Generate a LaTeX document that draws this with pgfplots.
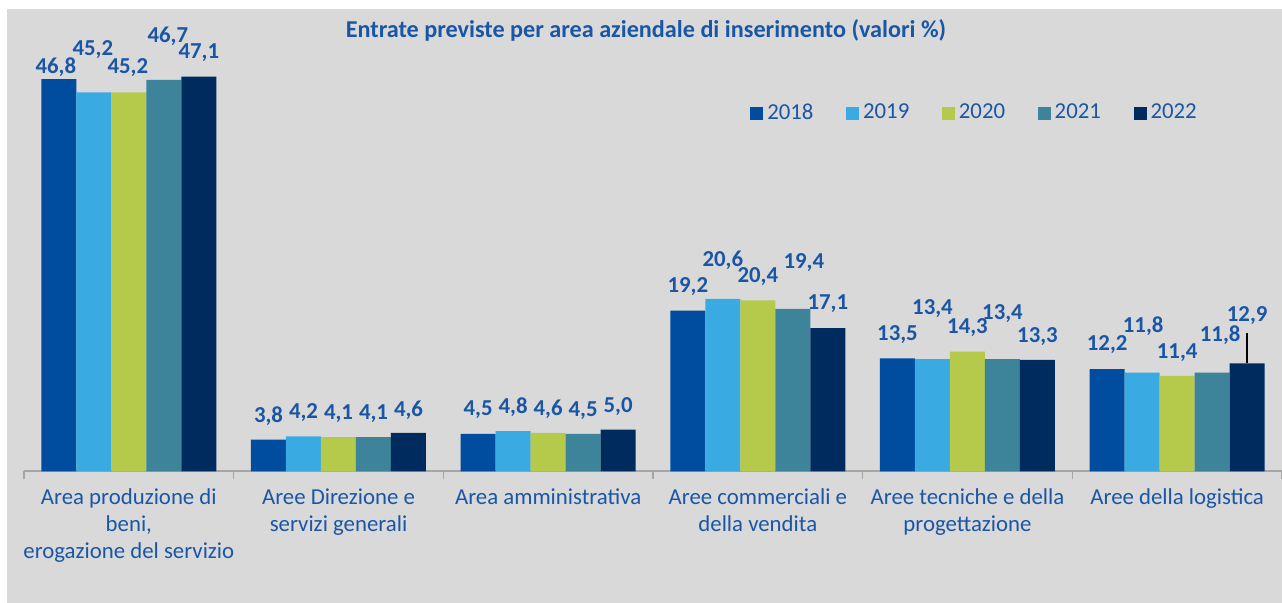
\documentclass[border=0pt]{standalone}
\usepackage{fontspec}
\setmainfont{Carlito}
\usepackage{pgfplots}
\usepackage{pgfplotstable}
\pgfplotsset{compat=1.18}
\definecolor{cA}{HTML}{004C9E}
\definecolor{cB}{HTML}{3AABE2}
\definecolor{cC}{HTML}{B5C94B}
\definecolor{cD}{HTML}{3D8399}
\definecolor{cE}{HTML}{002B5F}
\definecolor{txt}{HTML}{1A56A6}
\definecolor{bg}{HTML}{D9D9D9}
\definecolor{axc}{HTML}{A6A6A6}
\pgfplotstableread{
x y dy dx
0 46.8 12.4 -3
1 3.8 23.9 0
2 4.5 24.5 0
3 19.2 23.8 0
4 13.5 23.3 0
5 12.2 24.2 0
}\tA
\pgfplotstableread{
x y dy dx
0 45.2 42.5 -1
1 4.2 23.6 0
2 4.8 23.6 0
3 20.6 38.1 0
4 13.4 50.8 0
5 11.8 45.9 1
}\tB
\pgfplotstableread{
x y dy dx
0 45.2 24.8 -1
1 4.1 23.8 0
2 4.6 23.6 0
3 20.4 23.4 0
4 14.3 24.3 0
5 11.4 23.6 0
}\tC
\pgfplotstableread{
x y dy dx
0 46.7 43.9 4
1 4.1 23.8 0
2 4.5 23.1 0
3 19.4 45.8 11
4 13.4 45.1 0
5 11.8 37.6 8
}\tD
\pgfplotstableread{
x y dy dx
0 47.1 24.3 0
1 4.6 22.2 0
2 5.0 22.9 0
3 17.1 24.1 0
4 13.3 23.3 0
5 12.9 47.3 0
}\tE
\begin{document}
\begin{tikzpicture}
\fill[white] (-12pt,-65.75pt) rectangle (629pt,235.75pt);
\fill[bg] (-8.5pt,-65.75pt) rectangle (629pt,231.25pt);
\begin{axis}[
  scale only axis, width=629pt, height=209.625pt,
  xmin=-0.5, xmax=5.5, ymin=0, ymax=50,
  ybar=0pt, bar width=17.5pt,
  axis x line*=bottom, axis y line=none,
  x axis line style={draw=axc, line width=1pt},
  xtick={0,...,5}, major tick length=0pt,
  minor xtick={-0.5,0.5,...,5.5}, minor tick length=4pt, tick align=outside,
  minor tick style={draw=axc, line width=0.8pt},
  xticklabels={{Area produzione di\\beni,\\erogazione del servizio},{Aree Direzione e\\servizi generali},{Area amministrativa},{Aree commerciali e\\della vendita},{Aree tecniche e della\\progettazione},{Aree della logistica}},
  xticklabel style={font=\fontsize{11.4pt}{13.5pt}\selectfont, text=txt, align=center, anchor=north, yshift=-5pt},
  ytick=\empty,
  clip=false,
  /pgf/number format/assume math mode=true,
  visualization depends on={\thisrow{dy}\as\dy},
  visualization depends on={\thisrow{dx}\as\dx},
  nodes near coords={\pgfmathprintnumber[fixed,fixed zerofill,precision=1,use comma]{\pgfplotspointmeta}},
  every node near coord/.append style={font=\bfseries\fontsize{11.4pt}{13.5pt}\selectfont, text=txt, anchor=center, yshift=\dy*0.5pt, xshift=\dx*0.5pt},
  legend style={at={(0.577,0.855)}, anchor=west, draw=none, fill=none, legend columns=5, font=\fontsize{11.4pt}{13.5pt}\selectfont, text=txt, inner sep=0pt, /tikz/every even column/.append style={column sep=14.3pt}},
  legend image code/.code={\fill[#1] (0pt,-3.25pt) rectangle (6.5pt,3.25pt);},
]
\addplot[fill=cA, draw=none] table[x=x,y=y] {\tA};
\addplot[fill=cB, draw=none] table[x=x,y=y] {\tB};
\addplot[fill=cC, draw=none] table[x=x,y=y] {\tC};
\addplot[fill=cD, draw=none] table[x=x,y=y] {\tD};
\addplot[fill=cE, draw=none] table[x=x,y=y] {\tE};
\legend{2018,2019,2020,2021,2022}
\draw[black, line width=0.7pt] (axis cs:5.334,12.9) -- (axis cs:5.334,16.55);
\end{axis}
\node[font=\bfseries\fontsize{12.1pt}{14pt}\selectfont, text=txt] at (311pt,220.5pt) {Entrate previste per area aziendale di inserimento (valori \%)};
\pgfresetboundingbox
\path[use as bounding box] (-12pt,-65.75pt) rectangle (629pt,235.75pt);
\end{tikzpicture}
\end{document}
